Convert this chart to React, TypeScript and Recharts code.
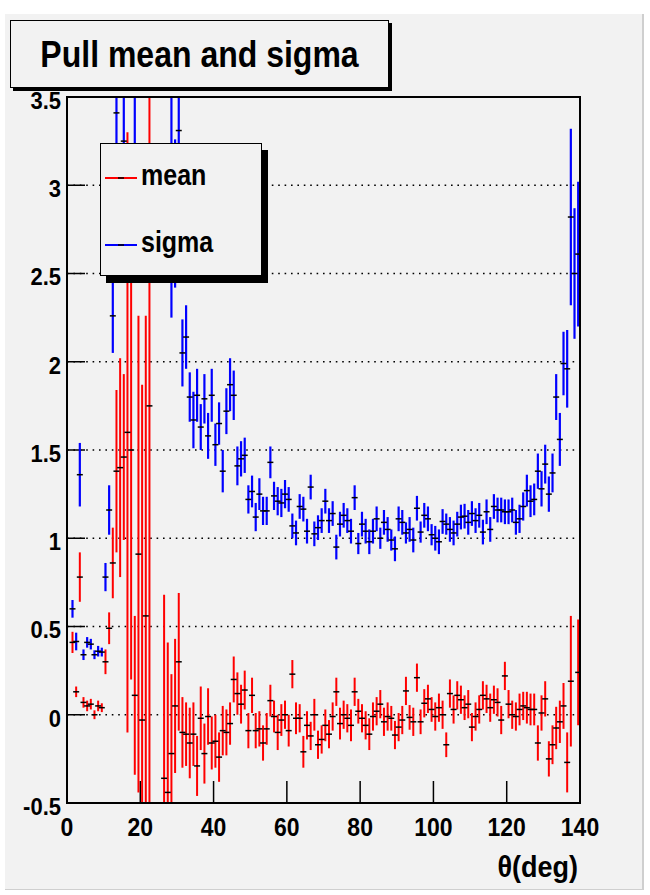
import React from 'react';
import { ComposedChart, Scatter, ErrorBar, XAxis, YAxis, CartesianGrid, ReferenceArea } from 'recharts';

// Bin centres (deg)
const theta = [
  1.5, 2.5, 3.5, 4.5, 5.5, 6.5, 7.5, 8.5, 9.5, 10.5,
  11.5, 12.5, 13.5, 14.5, 15.5, 16.5, 17.5, 18.5, 19.5, 20.5,
  21.5, 22.5, 23.5, 24.5, 25.5, 26.5, 27.5, 28.5, 29.5, 30.5,
  31.5, 32.5, 33.5, 34.5, 35.5, 36.5, 37.5, 38.5, 39.5, 40.5,
  41.5, 42.5, 43.5, 44.5, 45.5, 46.5, 47.5, 48.5, 49.5, 50.5,
  51.5, 52.5, 53.5, 54.5, 55.5, 56.5, 57.5, 58.5, 59.5, 60.5,
  61.5, 62.5, 63.5, 64.5, 65.5, 66.5, 67.5, 68.5, 69.5, 70.5,
  71.5, 72.5, 73.5, 74.5, 75.5, 76.5, 77.5, 78.5, 79.5, 80.5,
  81.5, 82.5, 83.5, 84.5, 85.5, 86.5, 87.5, 88.5, 89.5, 90.5,
  91.5, 92.5, 93.5, 94.5, 95.5, 96.5, 97.5, 98.5, 99.5, 100.5,
  101.5, 102.5, 103.5, 104.5, 105.5, 106.5, 107.5, 108.5, 109.5, 110.5,
  111.5, 112.5, 113.5, 114.5, 115.5, 116.5, 117.5, 118.5, 119.5, 120.5,
  121.5, 122.5, 123.5, 124.5, 125.5, 126.5, 127.5, 128.5, 129.5, 130.5,
  131.5, 132.5, 133.5, 134.5, 135.5, 136.5, 137.5, 138.5, 139.5,
];

const meanValues = [
  0.41, 0.13, 0.78, 0.07, 0.05, 0.06, 0.0, 0.05, 0.04, 0.3,
  0.49, 0.86, 1.38, 1.4, 1.46, 1.6, 1.5, 0.11, 0.91, -0.03,
  0.56, 1.75, null, null, null, -0.36, -0.44, -0.22, 0.05, 0.3,
  -0.1, -0.11, -0.16, -0.11, -0.29, -0.02, -0.22, -0.01, -0.16, -0.15,
  -0.24, -0.09, -0.1, -0.05, 0.2, 0.12, 0.06, 0.14, -0.09, 0.11,
  -0.09, -0.08, -0.16, -0.08, 0.08, -0.01, -0.1, -0.03, 0.0, -0.09,
  0.23, -0.02, -0.02, -0.21, -0.06, -0.12, 0.0, -0.17, -0.14, -0.06,
  -0.11, -0.01, 0.13, -0.05, 0.0, -0.02, -0.06, 0.13, 0.02, -0.02,
  -0.06, -0.11, -0.01, 0.02, 0.06, -0.04, -0.01, -0.02, -0.115, -0.07,
  -0.03, 0.135, -0.015, -0.04, 0.21, -0.04, 0.065, 0.09, 0.03, -0.01,
  0.04, 0.0, -0.17, 0.12, 0.03, 0.11, 0.085, 0.04, 0.06, -0.07,
  -0.01, 0.03, 0.11, 0.09, 0.04, 0.085, 0.07, -0.03, 0.22, 0.06,
  0.0, -0.01, 0.03, 0.05, 0.04, 0.03, 0.03, -0.16, 0.01, 0.09,
  -0.25, -0.17, -0.075, -0.04, 0.05, -0.27, 0.19, null, 0.24,
];

const meanErrors = [
  0.06, 0.03, 0.14, 0.03, 0.03, 0.03, 0.025, 0.03, 0.025, 0.07,
  0.09, 0.2, 0.46, 0.62, 0.47, 1.7, 1.3, 0.45, 1.35, 1.9,
  1.7, 2.5, null, null, null, 1.04, 0.85, 0.45, 0.38, 0.39,
  0.2, 0.18, 0.2, 0.18, 0.17, 0.18, 0.17, 0.16, 0.15, 0.15,
  0.14, 0.14, 0.13, 0.12, 0.13, 0.12, 0.11, 0.11, 0.1, 0.1,
  0.1, 0.1, 0.1, 0.09, 0.09, 0.09, 0.1, 0.09, 0.08, 0.09,
  0.08, 0.09, 0.08, 0.09, 0.08, 0.08, 0.09, 0.08, 0.08, 0.09,
  0.08, 0.08, 0.08, 0.09, 0.08, 0.08, 0.09, 0.08, 0.07, 0.08,
  0.08, 0.09, 0.08, 0.08, 0.08, 0.08, 0.08, 0.07, 0.08, 0.08,
  0.08, 0.08, 0.07, 0.08, 0.08, 0.07, 0.08, 0.08, 0.07, 0.08,
  0.08, 0.08, 0.07, 0.08, 0.08, 0.08, 0.08, 0.07, 0.08, 0.08,
  0.08, 0.08, 0.08, 0.08, 0.08, 0.08, 0.08, 0.08, 0.08, 0.08,
  0.08, 0.08, 0.09, 0.08, 0.09, 0.09, 0.09, 0.1, 0.1, 0.1,
  0.1, 0.11, 0.12, 0.12, 0.13, 0.17, 0.37, null, 0.3,
];

const sigmaValues = [
  0.6, 0.415, 1.36, 0.34, 0.41, 0.4, 0.34, 0.36, 0.355, 0.78,
  1.16, 2.26, 3.41, null, 3.25, null, null, 3.9, null, null,
  null, null, null, null, null, null, null, 2.9, 2.84, 3.31,
  2.05, 2.14, 1.8, 1.67, 1.81, 1.63, 1.79, 1.58, 1.81, 1.53,
  1.65, 1.38, 1.72, 1.87, 1.81, 1.41, 1.45, 1.47, 1.22, 1.265,
  1.12, 1.25, 1.155, 1.155, 1.43, 1.24, 1.21, 1.2, 1.25, 1.22,
  1.07, 1.03, 1.18, 1.165, 1.04, 1.29, 1.025, 1.06, 1.1, 1.21,
  1.1, 1.14, 0.95, 1.08, 1.13, 1.1, 1.04, 1.23, 0.97, 1.08,
  1.04, 0.98, 1.04, 1.11, 1.0, 1.09, 1.05, 0.99, 0.94, 1.11,
  1.09, 1.03, 1.05, 0.99, 1.17, 1.035, 1.13, 1.11, 1.02, 1.0,
  0.98, 1.095, 1.08, 1.05, 1.03, 1.08, 1.12, 1.125, 1.09, 1.14,
  1.1, 1.13, 1.035, 1.15, 1.05, 1.18, 1.16, 1.16, 1.15, 1.15,
  1.16, 1.09, 1.11, 1.18, 1.27, 1.21, 1.22, 1.38, 1.28, 1.42,
  1.25, 1.37, 1.8, 1.56, 1.99, 1.96, 2.82, 2.5, 2.61,
];

const sigmaErrors = [
  0.05, 0.05, 0.18, 0.03, 0.03, 0.03, 0.025, 0.03, 0.025, 0.08,
  0.14, 0.21, 0.5, null, 0.35, null, null, 0.9, null, null,
  null, null, null, null, null, null, null, 0.65, 0.42, 0.36,
  0.19, 0.18, 0.14, 0.16, 0.15, 0.13, 0.14, 0.13, 0.15, 0.12,
  0.12, 0.12, 0.13, 0.15, 0.14, 0.11, 0.1, 0.1, 0.08, 0.09,
  0.08, 0.09, 0.08, 0.08, 0.09, 0.08, 0.08, 0.08, 0.08, 0.07,
  0.07, 0.07, 0.07, 0.07, 0.07, 0.07, 0.07, 0.07, 0.07, 0.07,
  0.07, 0.07, 0.07, 0.07, 0.07, 0.07, 0.07, 0.07, 0.06, 0.07,
  0.07, 0.07, 0.07, 0.07, 0.06, 0.07, 0.07, 0.06, 0.07, 0.07,
  0.07, 0.06, 0.07, 0.07, 0.07, 0.06, 0.07, 0.07, 0.06, 0.07,
  0.07, 0.07, 0.06, 0.07, 0.07, 0.07, 0.07, 0.07, 0.07, 0.07,
  0.07, 0.07, 0.07, 0.07, 0.07, 0.07, 0.07, 0.07, 0.07, 0.07,
  0.07, 0.07, 0.08, 0.08, 0.09, 0.09, 0.09, 0.1, 0.1, 0.11,
  0.1, 0.11, 0.13, 0.15, 0.18, 0.22, 0.5, 0.37, 0.41,
];

const xMajorTicks = [0, 20, 40, 60, 80, 100, 120, 140];
const xMinorTicks = [0, 5, 10, 15, 20, 25, 30, 35, 40, 45, 50, 55, 60, 65, 70, 75, 80, 85, 90, 95, 100, 105, 110, 115, 120, 125, 130, 135, 140];
const yMajorTicks = [-0.5, 0, 0.5, 1, 1.5, 2, 2.5, 3, 3.5];
const yMinorTicks = [
  -0.5, -0.4, -0.3, -0.2, -0.1, 0, 0.1, 0.2, 0.3, 0.4, 0.5, 0.6, 0.7, 0.8, 0.9, 1, 1.1, 1.2, 1.3, 1.4,
  1.5, 1.6, 1.7, 1.8, 1.9, 2, 2.1, 2.2, 2.3, 2.4, 2.5, 2.6, 2.7, 2.8, 2.9, 3, 3.1, 3.2, 3.3, 3.4, 3.5,
];

const FONT = '"Liberation Sans", Arial, Helvetica, sans-serif';
const BG = '#f2f2f2';
const W = 650;
const H = 895;
const PLOT = { left: 67, right: 580, top: 97, bottom: 803 };

const meanData = theta
  .map((t, i) => ({ t, v: meanValues[i], e: meanErrors[i] }))
  .filter((d) => d.v !== null);
const sigmaData = theta
  .map((t, i) => ({ t, v: sigmaValues[i], e: sigmaErrors[i] }))
  .filter((d) => d.v !== null);

const Marker = (props: any) => {
  const { cx, cy } = props;
  if (cx == null || cy == null || isNaN(cx) || isNaN(cy)) return null;
  return <line x1={cx - 3} x2={cx + 3} y1={cy} y2={cy} stroke="#000" strokeWidth={1.5} />;
};

const XTick = (props: any) => {
  const { x, y, payload } = props;
  return (
    <g transform={`translate(${x},${y}) scale(1,1.15)`}>
      <text x={0} y={0} dy="0.71em" textAnchor="middle" fontSize={23} fontWeight="bold" fontFamily={FONT} fill="#000">
        {payload.value}
      </text>
    </g>
  );
};

const YTick = (props: any) => {
  const { x, y, payload } = props;
  return (
    <g transform={`translate(${x},${y + 3}) scale(1,1.12)`}>
      <text x={0} y={0} dy="0.36em" textAnchor="end" fontSize={22} fontWeight="bold" fontFamily={FONT} fill="#000">
        {payload.value}
      </text>
    </g>
  );
};

const margins = { top: PLOT.top, right: W - PLOT.right, bottom: H - PLOT.bottom - 30, left: PLOT.left - 60 };
const dataMargins = { top: PLOT.top, right: W - PLOT.right, bottom: H - PLOT.bottom, left: PLOT.left };

export default function App() {
  return (
    <div style={{ position: 'absolute', left: 0, top: 0, width: W, height: H, background: '#fff', overflow: 'hidden' }}>
      <div
        style={{
          position: 'absolute',
          left: 5,
          top: 14,
          width: 637,
          height: 875,
          background: BG,
          borderRight: '2px solid #cfcfcf',
          borderBottom: '1px solid #cfcfcf',
        }}
      />

      {/* Frame, grid and axes */}
      <div style={{ position: 'absolute', left: 0, top: 0 }}>
        <ComposedChart width={W} height={H} margin={margins}>
          <CartesianGrid
            xAxisId="major"
            yAxisId="major"
            vertical={false}
            stroke="#000"
            strokeWidth={1.6}
            strokeDasharray="1.6 4.8"
          />
          <XAxis
            xAxisId="major"
            type="number"
            dataKey="t"
            domain={[0, 140]}
            ticks={xMajorTicks}
            interval={0}
            allowDataOverflow
            axisLine={{ stroke: '#000', strokeWidth: 2 }}
            tickLine={{ stroke: '#000', strokeWidth: 1.5 }}
            tickSize={-22}
            tickMargin={36}
            tick={<XTick />}
            height={30}
          />
          <XAxis
            xAxisId="minor"
            type="number"
            domain={[0, 140]}
            ticks={xMinorTicks}
            interval={0}
            allowDataOverflow
            mirror
            height={0}
            axisLine={false}
            tickLine={{ stroke: '#000', strokeWidth: 1.2 }}
            tickSize={11}
            tick={false}
          />
          <YAxis
            yAxisId="major"
            type="number"
            dataKey="v"
            domain={[-0.5, 3.5]}
            ticks={yMajorTicks}
            interval={0}
            allowDataOverflow
            width={60}
            axisLine={{ stroke: '#000', strokeWidth: 1.5 }}
            tickLine={{ stroke: '#000', strokeWidth: 1.5 }}
            tickSize={-18}
            tickMargin={24}
            tick={<YTick />}
          />
          <YAxis
            yAxisId="minor"
            type="number"
            domain={[-0.5, 3.5]}
            ticks={yMinorTicks}
            interval={0}
            allowDataOverflow
            mirror
            width={0}
            axisLine={false}
            tickLine={{ stroke: '#000', strokeWidth: 1.2 }}
            tickSize={9}
            tick={false}
          />
          <ReferenceArea
            xAxisId="major"
            yAxisId="major"
            x1={0}
            x2={140}
            y1={-0.5}
            y2={3.5}
            fill="none"
            stroke="#000"
            strokeWidth={2}
          />
        </ComposedChart>
      </div>

      {/* Data layer, clipped to the frame */}
      <div
        style={{
          position: 'absolute',
          left: 0,
          top: 0,
          width: W,
          height: H,
          clipPath: `inset(${PLOT.top + 1}px ${W - PLOT.right + 1}px ${H - PLOT.bottom + 1}px ${PLOT.left + 1}px)`,
        }}
      >
        <ComposedChart width={W} height={H} margin={dataMargins}>
          <XAxis xAxisId="major" type="number" dataKey="t" domain={[0, 140]} allowDataOverflow hide />
          <YAxis yAxisId="major" type="number" dataKey="v" domain={[-0.5, 3.5]} allowDataOverflow hide />
          <Scatter
            name="mean"
            data={meanData}
            xAxisId="major"
            yAxisId="major"
            dataKey="v"
            fill="#ff0000"
            shape={Marker}
            isAnimationActive={false}
          >
            <ErrorBar dataKey="e" direction="y" width={0} stroke="#ff0000" strokeWidth={2} isAnimationActive={false} />
          </Scatter>
          <Scatter
            name="sigma"
            data={sigmaData}
            xAxisId="major"
            yAxisId="major"
            dataKey="v"
            fill="#0000ff"
            shape={Marker}
            isAnimationActive={false}
          >
            <ErrorBar dataKey="e" direction="y" width={0} stroke="#0000ff" strokeWidth={2.2} isAnimationActive={false} />
          </Scatter>
        </ComposedChart>
      </div>

      {/* Title box */}
      <div
        style={{
          position: 'absolute',
          left: 10,
          top: 20,
          width: 377,
          height: 66,
          border: '1px solid #000',
          boxShadow: '3px 3px 0 #000',
          background: BG,
          display: 'flex',
          alignItems: 'center',
          justifyContent: 'center',
        }}
      >
        <span
          style={{
            fontFamily: FONT,
            fontWeight: 'bold',
            fontSize: 32,
            display: 'inline-block',
            transform: 'scaleY(1.15)',
            color: '#000',
          }}
        >
          Pull mean and sigma
        </span>
      </div>

      {/* Legend */}
      <div
        style={{
          position: 'absolute',
          left: 100,
          top: 143,
          width: 160,
          height: 131,
          border: '1px solid #000',
          boxShadow: '6px 7px 0 #000',
          background: BG,
        }}
      >
        <svg style={{ position: 'absolute', left: 4, top: 24 }} width={32} height={20}>
          <line x1={0} x2={32} y1={10} y2={10} stroke="#ff0000" strokeWidth={2} />
          <line x1={13} x2={19} y1={10} y2={10} stroke="#000" strokeWidth={1.5} />
        </svg>
        <div
          style={{
            position: 'absolute',
            left: 40,
            top: 16,
            fontFamily: FONT,
            fontWeight: 'bold',
            fontSize: 25,
            lineHeight: '30px',
            transform: 'scaleY(1.15)',
            color: '#000',
          }}
        >
          mean
        </div>
        <svg style={{ position: 'absolute', left: 4, top: 91 }} width={32} height={20}>
          <line x1={0} x2={32} y1={10} y2={10} stroke="#0000ff" strokeWidth={2} />
          <line x1={13} x2={19} y1={10} y2={10} stroke="#000" strokeWidth={1.5} />
        </svg>
        <div
          style={{
            position: 'absolute',
            left: 40,
            top: 83,
            fontFamily: FONT,
            fontWeight: 'bold',
            fontSize: 25,
            lineHeight: '30px',
            transform: 'scaleY(1.15)',
            color: '#000',
          }}
        >
          sigma
        </div>
      </div>

      {/* X axis title */}
      <div
        style={{
          position: 'absolute',
          right: 72,
          top: 850,
          fontFamily: FONT,
          fontWeight: 'bold',
          fontSize: 27,
          lineHeight: '34px',
          transform: 'scaleY(1.12)',
          color: '#000',
          whiteSpace: 'nowrap',
        }}
      >
        θ(deg)
      </div>
    </div>
  );
}
